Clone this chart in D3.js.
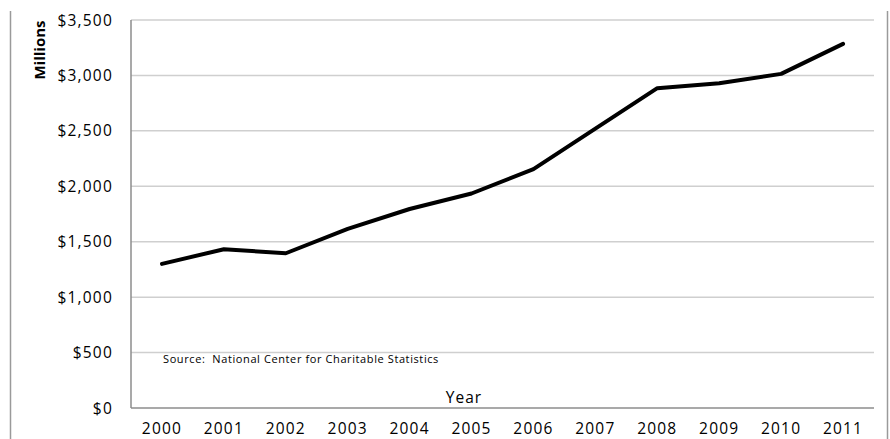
<!DOCTYPE html>
<html>
<head>
<meta charset="utf-8">
<script src="https://cdn.jsdelivr.net/npm/d3@7"></script>
<style>
  body { margin: 0; background: #fff; }
  text { font-family: "Open Sans", sans-serif; fill: #000; }
</style>
</head>
<body>
<div id="chart"></div>
<script>
const years = ["2000","2001","2002","2003","2004","2005","2006","2007","2008","2009","2010","2011"];
const amounts = [1300, 1432, 1396, 1615, 1795, 1935, 2155, 2520, 2885, 2930, 3014, 3285];
const yTicks = [0, 500, 1000, 1500, 2000, 2500, 3000, 3500];

const w = 890, h = 439;
const m = {top: 20, right: 16, bottom: 31, left: 131};

const svg = d3.select("#chart").append("svg")
    .attr("width", w).attr("height", h);

// outer frame lines
svg.append("line").attr("x1", 10.5).attr("x2", 10.5).attr("y1", 11).attr("y2", h)
    .style("stroke", "#9a9a9a").style("stroke-width", 1.5);
svg.append("line").attr("x1", 887.5).attr("x2", 887.5).attr("y1", 11).attr("y2", h)
    .style("stroke", "#9a9a9a").style("stroke-width", 1.5);

const x = d3.scalePoint().domain(years).range([m.left, w - m.right]).padding(0.5);
const y = d3.scaleLinear().domain([0, 3500]).range([h - m.bottom, m.top]);

// gridlines
svg.selectAll(null).data(yTicks.filter(d => d > 0)).enter().append("line")
    .attr("x1", m.left).attr("x2", w - m.right)
    .attr("y1", d => y(d)).attr("y2", d => y(d))
    .style("stroke", "#cfcfcf").style("stroke-width", 1.5);

// axes lines
svg.append("line").attr("x1", m.left).attr("x2", m.left).attr("y1", y(3500)).attr("y2", y(0))
    .style("stroke", "#8c8c8c").style("stroke-width", 1.5);
svg.append("line").attr("x1", m.left).attr("x2", w - m.right).attr("y1", y(0)).attr("y2", y(0))
    .style("stroke", "#8c8c8c").style("stroke-width", 1.5);

// y labels
svg.selectAll(null).data(yTicks).enter().append("text")
    .attr("x", 113).attr("y", d => y(d)).attr("dy", "0.36em")
    .attr("text-anchor", "end")
    .style("font-size", "15.5px").style("letter-spacing", "1.2px")
    .text(d => "$" + d3.format(",")(d));

// x labels
svg.selectAll(null).data(years).enter().append("text")
    .attr("x", d => x(d)).attr("y", 434)
    .attr("text-anchor", "middle")
    .style("font-size", "15.5px").style("letter-spacing", "1.2px")
    .text(d => d);

// line
const line = d3.line().x((d, i) => x(years[i])).y(d => y(d));
svg.append("path").datum(amounts)
    .attr("d", line)
    .style("fill", "none").style("stroke", "#000").style("stroke-width", 4)
    .style("stroke-linejoin", "round").style("stroke-linecap", "round");

// titles
svg.append("text")
    .attr("transform", "translate(45,50) rotate(-90)")
    .attr("text-anchor", "middle")
    .style("font-size", "15px").style("font-weight", "bold")
    .text("Millions");

svg.append("text")
    .attr("x", 464).attr("y", 403).attr("text-anchor", "middle")
    .style("font-size", "15.5px").style("letter-spacing", "1px")
    .text("Year");

svg.append("text")
    .attr("x", 163).attr("y", 363)
    .style("font-size", "11px").style("letter-spacing", "0.6px")
    .attr("xml:space", "preserve").style("white-space", "pre")
    .text("Source:  National Center for Charitable Statistics");
</script>
</body>
</html>
